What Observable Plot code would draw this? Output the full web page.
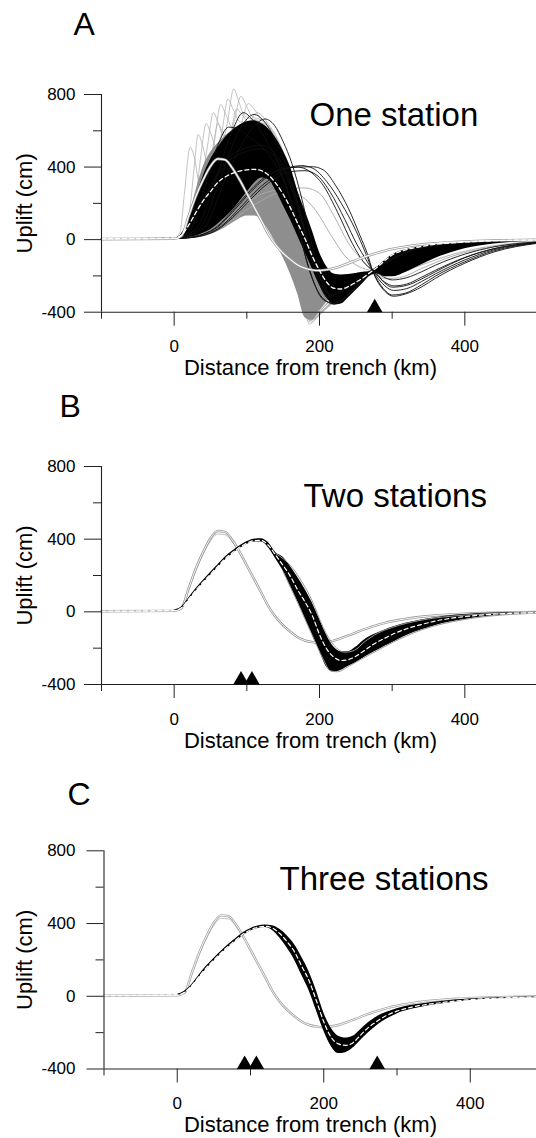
<!DOCTYPE html>
<html><head><meta charset="utf-8">
<script src="https://cdn.jsdelivr.net/npm/d3@7"></script>
<script src="https://cdn.jsdelivr.net/npm/@observablehq/plot@0.6"></script>
<style>
body{margin:0;background:#fff;}
#wrap{position:relative;width:536px;height:1138px;overflow:hidden;background:#fff;}
.panel{position:absolute;left:0;}
</style></head><body><div id="wrap"></div>
<script>
// ---------- shared x grid (km) ----------
const X = [-100,0,10,20,30,40,50,60,70,80,90,100,110,120,130,140,150,160,170,180,190,200,210,220,230,240,250,260,270,280,290,300,320,340,360,380,400,440,500];

// true model (cm)
const trueModel = [3,5,20,130,240,330,405,445,440,395,330,255,180,105,28,-30,-75,-110,-140,-158,-167,-170,-166,-158,-145,-130,-114,-98,-85,-72,-61,-52,-38,-27,-20,-14,-10,-5,-1];
const trueModel2 = [3,5,18,120,228,318,390,428,425,385,322,250,177,103,28,-28,-72,-107,-136,-154,-163,-167,-164,-156,-143,-128,-113,-97,-84,-71,-60,-51,-37,-27,-20,-14,-10,-5,-1];

// ---------- Panel A: one station ----------
const bestA = [5,8,25,80,150,215,265,315,345,365,378,385,387,380,355,310,250,175,90,5,-90,-170,-235,-268,-272,-258,-235,-210,-180,-150,-115,-85,-55,-38,-25,-18,-13,-6,-2];
const blackHiA = [5,8,30,110,230,350,440,505,560,600,630,650,655,640,610,560,490,400,270,160,50,-70,-150,-190,-195,-192,-186,-180,-174,-150,-115,-85,-55,-38,-25,-18,-13,-6,-2];
const blackLoA = [3,5,8,12,20,35,55,85,120,160,210,260,310,340,330,270,190,110,20,-70,-160,-250,-320,-360,-355,-320,-280,-240,-200,-190,-205,-205,-178,-140,-102,-73,-50,-24,-8];
const grayHiA = [5,8,25,120,270,400,480,530,570,600,620,630,620,590,540,470,380,290,190,80,-30,-130,-190,-210,-210,-200,-190,-182,-175,-160,-140,-120,-88,-62,-44,-32,-23,-11,-3];
const grayLoA = [3,5,6,8,12,18,28,45,65,90,115,130,130,110,50,-20,-100,-190,-300,-430,-445,-395,-345,-302,-268,-238,-212,-193,-178,-165,-150,-130,-95,-68,-48,-34,-24,-11,-3];

const grayA1 = [[-100,4],[0,6],[8,40],[14,250],[22,510],[28,450],[34,330],[50,400],[90,450],[130,380],[150,240],[165,0],[176,-300],[185,-440],[198,-400],[225,-300],[272,-172],[300,-120],[350,-55],[420,-18],[500,-4]];
const grayA2 = [[-100,4],[0,6],[12,30],[22,180],[28,420],[33,580],[39,520],[46,420],[70,480],[110,470],[140,330],[158,100],[173,-250],[183,-430],[198,-390],[228,-290],[272,-172],[300,-118],[350,-52],[420,-17],[500,-4]];
const grayA3 = [[-100,4],[0,6],[16,30],[28,170],[37,470],[44,640],[50,590],[58,510],[85,540],[120,500],[145,330],[162,80],[175,-270],[185,-450],[200,-395],[230,-285],[272,-172],[300,-118],[350,-52],[420,-17],[500,-4]];
const grayA4 = [[-100,4],[0,6],[20,30],[33,180],[46,520],[54,700],[60,650],[68,570],[95,590],[125,520],[148,320],[165,50],[177,-300],[186,-465],[202,-400],[232,-285],[272,-172],[300,-118],[350,-52],[420,-17],[500,-4]];
const grayA5 = [[-100,4],[0,6],[24,30],[40,200],[56,560],[64,745],[71,690],[80,620],[105,620],[130,540],[152,300],[168,30],[179,-320],[188,-455],[204,-395],[234,-280],[272,-172],[300,-118],[350,-52],[420,-17],[500,-4]];
const grayA6 = [[-100,4],[0,6],[28,30],[46,220],[66,600],[74,775],[81,720],[90,650],[112,640],[135,560],[155,300],[170,20],[181,-330],[190,-440],[206,-390],[236,-278],[272,-172],[300,-118],[350,-52],[420,-17],[500,-4]];
const grayA7 = [[-100,4],[0,6],[30,30],[50,220],[73,640],[82,830],[89,760],[97,680],[118,650],[140,540],[158,280],[172,0],[183,-340],[192,-430],[207,-385],[238,-275],[272,-172],[300,-118],[350,-52],[420,-17],[500,-4]];
const grayA8 = [[-100,4],[0,6],[34,30],[56,230],[82,640],[92,790],[99,740],[107,680],[125,650],[145,520],[160,270],[174,-10],[184,-350],[193,-420],[209,-380],[240,-270],[272,-172],[300,-118],[350,-52],[420,-17],[500,-4]];
const grayA9 = [[-100,4],[0,6],[38,30],[62,230],[92,630],[102,750],[110,720],[120,660],[135,600],[150,480],[163,260],[176,-20],[186,-350],[195,-410],[211,-370],[242,-265],[272,-172],[300,-118],[350,-52],[420,-17],[500,-4]];
const grayA10 = [[-100,4],[0,6],[42,30],[68,240],[102,620],[114,700],[124,670],[134,600],[146,500],[158,360],[168,200],[180,-60],[189,-350],[197,-400],[213,-360],[244,-260],[272,-172],[300,-118],[350,-52],[420,-17],[500,-4]];
const grayA11 = [[-100,4],[0,6],[22,30],[40,230],[54,520],[60,640],[66,600],[75,540],[100,560],[130,500],[150,300],[166,40],[178,-310],[188,-445],[203,-398],[233,-282],[272,-172],[300,-118],[350,-52],[420,-17],[500,-4]];
const grayA12 = [[-100,4],[0,6],[32,30],[54,220],[78,590],[86,720],[93,690],[102,650],[122,640],[142,530],[158,290],[172,0],[183,-345],[192,-435],[208,-385],[239,-272],[272,-172],[300,-118],[350,-52],[420,-17],[500,-4]];
const grayOutA1 = [[-100,4],[0,6],[20,12],[40,25],[60,55],[80,105],[100,165],[120,215],[140,255],[160,280],[180,285],[200,255],[220,130],[240,-20],[258,-110],[272,-170],[290,-215],[310,-210],[340,-160],[380,-95],[430,-45],[500,-12]];
const grayOutA2 = [[-100,4],[0,6],[20,12],[40,30],[60,70],[80,130],[100,200],[120,250],[140,270],[160,265],[175,240],[195,160],[215,30],[235,-90],[255,-150],[272,-172],[290,-195],[310,-185],[340,-140],[380,-85],[430,-40],[500,-10]];
const blackOutA1 = [[-100,4],[0,6],[20,12],[40,30],[60,70],[80,150],[100,240],[120,320],[140,375],[160,400],[175,408],[190,395],[210,320],[230,200],[250,50],[264,-80],[273,-170],[288,-270],[300,-305],[318,-295],[340,-250],[360,-200],[380,-158],[400,-122],[440,-62],[500,-18]];
const blackOutA2 = [[-100,4],[0,6],[20,10],[40,25],[60,60],[80,130],[100,215],[120,295],[140,355],[158,395],[170,400],[185,380],[205,300],[225,150],[245,-20],[260,-120],[273,-170],[290,-235],[302,-255],[320,-245],[340,-208],[360,-168],[400,-98],[440,-50],[500,-15]];
const blackOutA3 = [[-100,4],[0,6],[20,12],[40,30],[60,75],[80,160],[100,250],[120,330],[145,385],[170,400],[190,402],[205,385],[222,300],[240,170],[256,20],[266,-80],[273,-170],[290,-285],[302,-312],[318,-300],[340,-262],[360,-212],[380,-168],[400,-130],[440,-68],[500,-20]];
const blackOutA4 = [[-100,4],[0,6],[20,10],[40,22],[60,55],[80,120],[100,200],[120,280],[140,340],[160,375],[180,380],[198,350],[215,260],[235,110],[252,-30],[264,-110],[273,-170],[290,-255],[302,-280],[320,-270],[340,-232],[360,-188],[400,-112],[440,-56],[500,-17]];
const blackPostA1 = [[-100,4],[0,6],[30,150],[80,450],[120,500],[160,300],[190,-100],[215,-300],[240,-260],[262,-210],[273,-170],[288,-205],[300,-222],[320,-210],[340,-178],[360,-140],[400,-80],[440,-40],[500,-12]];
const blackPostA2 = [[-100,4],[0,6],[30,160],[80,470],[120,520],[160,320],[190,-80],[215,-310],[240,-265],[262,-212],[273,-170],[290,-240],[300,-262],[320,-252],[340,-218],[360,-176],[400,-100],[440,-50],[500,-15]];
const blackTopA1 = [[-100,4],[0,6],[30,60],[55,300],[80,600],[95,700],[108,660],[125,560],[145,400],[165,150],[185,-150],[205,-330],[220,-350],[240,-300],[260,-220],[273,-170],[290,-130],[320,-70],[360,-30],[420,-12],[500,-3]];
const blackTopA2 = [[-100,4],[0,6],[35,60],[62,320],[92,620],[110,690],[122,660],[138,560],[155,400],[172,170],[190,-120],[208,-310],[222,-345],[240,-300],[260,-220],[273,-170],[290,-128],[320,-68],[360,-30],[420,-12],[500,-3]];
const blackTopA3 = [[-100,4],[0,6],[40,60],[70,330],[105,600],[125,665],[138,630],[150,540],[162,420],[176,220],[192,-60],[210,-280],[224,-340],[242,-295],[260,-222],[273,-170],[290,-126],[320,-66],[360,-29],[420,-12],[500,-3]];
const blackTopA4 = [[-100,4],[0,6],[20,40],[40,260],[60,520],[75,620],[88,610],[105,560],[130,470],[150,330],[168,120],[186,-170],[204,-320],[220,-355],[240,-305],[260,-225],[273,-170],[290,-130],[320,-70],[360,-31],[420,-12],[500,-3]];
const stationsA = [276];

// ---------- Panel B: two stations ----------
const bestB = [3,8,22,70,120,165,208,250,292,325,355,378,392,393,365,310,255,195,120,55,-20,-125,-205,-250,-268,-262,-245,-218,-190,-165,-145,-125,-93,-70,-50,-36,-26,-13,-4];
const blackLoB = [2,5,18,64,113,158,200,242,284,317,347,370,384,384,352,290,225,140,55,-35,-125,-215,-305,-332,-322,-300,-280,-255,-232,-212,-190,-170,-130,-100,-75,-56,-42,-22,-7];
const blackHiB = [5,10,26,76,127,172,216,258,300,333,363,386,400,402,380,325,300,250,190,125,50,-40,-130,-195,-220,-218,-195,-160,-135,-117,-100,-85,-62,-45,-32,-22,-15,-7,-2];
const grayEdgeB1 = [[140,320],[160,255],[175,170],[190,60],[205,-85],[220,-185],[235,-222],[248,-212],[262,-165],[280,-118],[300,-86],[340,-46],[400,-18],[500,-3]];
const grayEdgeB2 = [[150,220],[170,50],[190,-130],[205,-260],[215,-325],[225,-330],[240,-300],[260,-255],[280,-212],[300,-170],[340,-100],[400,-42],[500,-7]];
const stationsB = [92, 107];

// ---------- Panel C: three stations ----------
const bestC = [3,8,22,60,110,158,200,240,277,310,342,365,380,385,375,345,300,245,165,85,-25,-140,-225,-262,-270,-255,-215,-175,-145,-118,-98,-82,-60,-46,-35,-26,-19,-10,-3];
const blackLoC = [2,5,18,55,104,150,192,232,269,302,333,358,373,378,362,320,265,200,115,30,-80,-190,-275,-315,-310,-285,-245,-205,-170,-140,-117,-97,-72,-55,-42,-31,-23,-12,-4];
const blackHiC = [5,10,27,65,117,166,208,248,285,318,350,372,387,392,388,368,333,285,215,135,30,-90,-175,-220,-230,-220,-185,-148,-120,-98,-82,-68,-50,-38,-29,-21,-15,-8,-2];
const stationsC = [92, 108, 273];

// ---------- axes ----------
const xDomain = [-100, 500];
const yDomain = [-400, 800];
const yMajor = [-400, 0, 400, 800];
const yMinor = [-200, 200, 600];
const xMajor = [0, 200, 400];
const xMinor = [-100, 100, 300];

const FONT = "'Liberation Sans', Arial, Helvetica, sans-serif";
const AX = "#222";
const curve = "monotone-x";
const fmt = d => String(d);

const gridRows = ys => X.map((x, i) => ({x, y: ys[i]}));
const bandRows = (lo, hi, minX) => X.map((x, i) => ({x, lo: lo[i], hi: hi[i]})).filter(d => d.x >= minX);
const keyRows = lines => lines.flatMap((pts, k) => pts.map(([x, y]) => ({k, x, y})));

function makePanel(cfg) {
  const {H, top, bottom, left, right, letter, letterX, letterY, title, titleX, titleY, stations, data} = cfg;
  const mL = left, mT = top;
  const txt = (s, x, y, o) => Plot.text([s], {text: d => d, frameAnchor: "top-left", dx: x - mL, dy: y - mT, fill: "black", ...o});
  const marks = [
    ...data,
    Plot.ruleX([xDomain[0]], {y1: () => yDomain[0], y2: () => yDomain[1], stroke: AX, strokeWidth: 1.1}),
    Plot.ruleY([yDomain[0]], {x1: () => xDomain[0], x2: () => xDomain[1], stroke: AX, strokeWidth: 1.1}),
    Plot.axisY({ticks: yMajor, tickSize: 17, tickPadding: left - 17 - 75, tickFormat: fmt, stroke: AX, fill: "black", label: null, fontSize: 17}),
    Plot.axisY({ticks: yMinor, tickSize: 8, stroke: AX, fill: "none", label: null}),
    Plot.axisX({ticks: xMajor, tickSize: 14, tickPadding: 14, tickFormat: fmt, stroke: AX, fill: "black", label: null, fontSize: 17}),
    Plot.axisX({ticks: xMinor, tickSize: 7, stroke: AX, fill: "none", label: null}),
    Plot.dot(stations, {x: d => d, y: () => yDomain[0], symbol: "triangle", r: 5.8, fill: "black", stroke: "none", dy: -4.5}),
    txt(letter, letterX, letterY, {fontSize: 32, textAnchor: "start", lineAnchor: "bottom"}),
    txt(title, titleX, titleY, {fontSize: 33, textAnchor: "start", lineAnchor: "bottom"}),
    txt("Uplift (cm)", 31, (top + bottom) / 2, {fontSize: 22, textAnchor: "middle", lineAnchor: "bottom", rotate: -90}),
    txt("Distance from trench (km)", 310, bottom + 63, {fontSize: 22, textAnchor: "middle", lineAnchor: "bottom"})
  ];
  return Plot.plot({
    width: 536, height: H,
    marginLeft: left, marginRight: 536 - right, marginTop: top, marginBottom: H - bottom,
    x: {domain: xDomain, range: [left, right]},
    y: {domain: yDomain, range: [bottom, top]},
    style: {fontFamily: FONT, fontSize: "17px", color: "black", background: "transparent", overflow: "visible"},
    marks
  });
}

const wrap = document.getElementById("wrap");
function place(svg, topPx) {
  const d = document.createElement("div");
  d.className = "panel";
  d.style.top = topPx + "px";
  d.appendChild(svg);
  wrap.appendChild(d);
}

// ----- Panel A marks -----
const grayPeaksA = [grayA1, grayA2, grayA3, grayA4, grayA5, grayA6, grayA7, grayA8, grayA9, grayA10, grayA11, grayA12];
const grayOutA = [grayOutA1, grayOutA2];
const blackLinesA = [blackOutA1, blackOutA2, blackOutA3, blackOutA4, blackPostA1, blackPostA2, blackTopA1, blackTopA2, blackTopA3, blackTopA4];

const dataA = [
  Plot.line(keyRows(grayPeaksA), {x: "x", y: "y", z: "k", stroke: "#b3b3b3", strokeWidth: 0.8, curve}),
  Plot.areaY(bandRows(grayLoA, grayHiA, -100), {x: "x", y1: "lo", y2: "hi", fill: "#8e8e8e", curve}),
  Plot.line(keyRows(grayOutA), {x: "x", y: "y", z: "k", stroke: "#a8a8a8", strokeWidth: 0.9, curve}),
  Plot.areaY(bandRows(blackLoA, blackHiA, -100), {x: "x", y1: "lo", y2: "hi", fill: "#000", curve}),
  Plot.line(keyRows(blackLinesA), {x: "x", y: "y", z: "k", stroke: "#111", strokeWidth: 0.9, curve}),
  Plot.line(gridRows(trueModel), {x: "x", y: "y", stroke: "#9a9a9a", strokeWidth: 2.6, curve}),
  Plot.line(gridRows(trueModel), {x: "x", y: "y", stroke: "#fff", strokeWidth: 1.1, curve}),
  Plot.line(gridRows(bestA), {x: "x", y: "y", stroke: "#fff", strokeWidth: 1.3, strokeDasharray: "4,3", curve})
];
place(makePanel({H: 380, top: 94, bottom: 311.7, left: 101, right: 537, letter: "A", letterX: 73, letterY: 34,
  title: "One station", titleX: 309, titleY: 125, stations: stationsA, data: dataA}), 0);

// ----- Panel B marks -----
const dataB = [
  Plot.line(gridRows(trueModel2), {x: "x", y: "y", stroke: "#bdbdbd", strokeWidth: 1, curve}),
  Plot.line(gridRows(trueModel), {x: "x", y: "y", stroke: "#999", strokeWidth: 2.4, curve}),
  Plot.line(gridRows(trueModel), {x: "x", y: "y", stroke: "#fff", strokeWidth: 0.9, curve}),
  Plot.areaY(bandRows(blackLoB, blackHiB, 0), {x: "x", y1: "lo", y2: "hi", fill: "#000", curve}),
  Plot.line(keyRows([grayEdgeB1, grayEdgeB2]), {x: "x", y: "y", z: "k", stroke: "#999", strokeWidth: 1, curve}),
  Plot.line(gridRows(bestB), {x: "x", y: "y", stroke: "#fff", strokeWidth: 1.2, strokeDasharray: "4,3", curve})
];
place(makePanel({H: 390, top: 86, bottom: 304, left: 101, right: 537, letter: "B", letterX: 59, letterY: 36,
  title: "Two stations", titleX: 303, titleY: 126, stations: stationsB, data: dataB}), 380);

// ----- Panel C marks -----
const dataC = [
  Plot.line(gridRows(trueModel2), {x: "x", y: "y", stroke: "#c4c4c4", strokeWidth: 1, curve}),
  Plot.line(gridRows(trueModel), {x: "x", y: "y", stroke: "#a3a3a3", strokeWidth: 2.4, curve}),
  Plot.line(gridRows(trueModel), {x: "x", y: "y", stroke: "#fff", strokeWidth: 0.9, curve}),
  Plot.areaY(bandRows(blackLoC, blackHiC, 0), {x: "x", y1: "lo", y2: "hi", fill: "#000", curve}),
  Plot.line(gridRows(bestC), {x: "x", y: "y", stroke: "#fff", strokeWidth: 1.2, strokeDasharray: "4,3", curve})
];
place(makePanel({H: 368, top: 80.3, bottom: 298.5, left: 103.5, right: 543, letter: "C", letterX: 67, letterY: 34,
  title: "Three stations", titleX: 279, titleY: 119, stations: stationsC, data: dataC}), 770);
</script>
</body></html>
